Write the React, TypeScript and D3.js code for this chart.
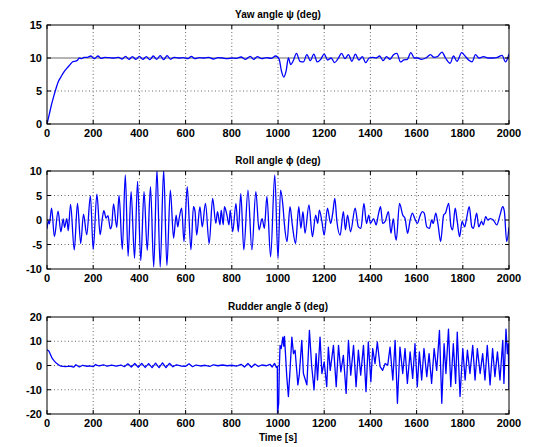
import * as d3 from "d3";

// time axis (s) shared by all three panels
const timeTicks = [0, 200, 400, 600, 800, 1000, 1200, 1400, 1600, 1800, 2000];

// Yaw angle psi (deg) as [t, value]
const yawAngle: [number, number][] = [
  [0, 0], [10, 1.5], [20, 3], [30, 4.3], [40, 5.5], [50, 6.5], [60, 7.1], [70, 7.7], [80, 8.2],
  [90, 8.6], [100, 9.0], [110, 9.4], [120, 9.5], [130, 9.6], [140, 10.0], [150, 9.9], [160, 10.1],
  [175, 10.1], [190, 10.3], [205, 9.9], [220, 10.3], [235, 9.95], [250, 10.1], [270, 10.05],
  [290, 10.0], [310, 10.1], [325, 9.85], [340, 10.25], [355, 9.8], [370, 10.2], [385, 9.8],
  [400, 10.25], [415, 9.8], [430, 10.2], [445, 9.75], [460, 10.3], [475, 9.8], [490, 10.35],
  [505, 9.75], [520, 10.35], [535, 9.8], [550, 10.1], [570, 10.0], [590, 10.05], [610, 9.9],
  [625, 10.25], [640, 9.9], [660, 10.05], [680, 10.0], [700, 10.1], [720, 9.85], [740, 10.05],
  [760, 10.0], [780, 9.9], [800, 10.0], [820, 9.95], [840, 10.15], [860, 9.8], [880, 10.25],
  [895, 9.8], [910, 10.2], [930, 9.9], [950, 10.05], [970, 9.95], [990, 10.3], [1005, 9.8],
  [1015, 8.0], [1025, 7.1], [1035, 8.0], [1045, 10.0], [1055, 9.0], [1065, 9.5], [1080, 10.7],
  [1095, 9.5], [1110, 9.4], [1125, 10.5], [1140, 9.6], [1155, 10.6], [1170, 9.4], [1185, 9.8],
  [1200, 10.6], [1215, 9.7], [1230, 10.0], [1245, 9.3], [1260, 9.9], [1275, 10.7], [1290, 9.9],
  [1305, 10.5], [1320, 9.5], [1335, 10.6], [1350, 9.7], [1365, 10.2], [1380, 9.3], [1395, 10.0],
  [1410, 10.1], [1425, 10.0], [1440, 10.3], [1455, 9.6], [1470, 10.2], [1485, 9.8], [1500, 10.5],
  [1515, 10.7], [1530, 9.4], [1545, 9.7], [1560, 9.8], [1575, 10.8], [1590, 10.0], [1605, 10.0],
  [1620, 9.8], [1640, 10.0], [1660, 10.5], [1675, 10.1], [1690, 10.2], [1710, 10.9], [1725, 10.0],
  [1745, 9.2], [1760, 10.3], [1775, 9.5], [1795, 10.8], [1810, 10.3], [1825, 9.7], [1840, 9.4],
  [1855, 10.5], [1870, 10.0], [1890, 10.2], [1910, 10.0], [1930, 10.0], [1950, 10.1], [1970, 10.4],
  [1985, 9.4], [2000, 10.6],
];
const yawReference = 10;

// Roll angle phi (deg)
const rollAngle: [number, number][] = [
  [0, -1.8], [6, -0.2], [10, -0.8], [20, 2.4], [32, -3.4], [48, 1.8], [60, -2.4], [70, 0.2],
  [76, -1.5], [86, 0.3], [92, -2.2], [102, 3.2], [118, -6.1], [132, 3.4], [146, -4.8], [158, 1.2],
  [172, -3.0], [188, 4.9], [200, -6.0], [216, 5.3], [230, -3.0], [240, 0.5], [246, 1.9], [256, 0.4],
  [264, 0.9], [274, -1.8], [280, -1.2], [288, 3.3], [302, -1.5], [312, 5.0], [326, -6.0], [339, 9.2],
  [351, -7.4], [364, 5.8], [379, -7.8], [392, 7.9], [406, -8.3], [420, 5.8], [434, -6.2], [448, 6.8],
  [462, -9.6], [476, 10.2], [490, -9.6], [505, 10.2], [519, -9.3], [534, 6.1], [548, -3.7], [559, 1.0],
  [566, -1.4], [572, 0.3], [583, 2.4], [593, -4.4], [607, 6.8], [623, -6.1], [634, 2.7], [641, 1.7],
  [648, -3.1], [662, 2.7], [672, -1.4], [686, 3.4], [702, -4.8], [717, 4.4], [731, -0.7], [738, 1.7],
  [749, -1.0], [754, 2.0], [763, -1.0], [768, 2.7], [779, 1.0], [788, -1.0], [793, 2.0], [804, -2.4],
  [818, 3.4], [828, -2.4], [839, 5.4], [852, -6.1], [870, 6.1], [887, -6.1], [904, 5.8], [918, -2.0],
  [931, 0.3], [941, -1.7], [952, 4.8], [968, -7.5], [986, 9.2], [1000, -7.8], [1011, 6.1], [1021, 3.1],
  [1028, -1.0], [1039, -4.4], [1052, 2.7], [1062, -1.0], [1076, -4.8], [1090, 2.7], [1099, -1.7],
  [1108, 1.7], [1117, -2.7], [1134, 3.1], [1149, -3.4], [1163, 1.0], [1172, -0.7], [1179, 2.0],
  [1190, -0.3], [1200, -3.1], [1214, 2.4], [1228, -0.7], [1237, 1.4], [1246, 4.4], [1255, -0.3],
  [1269, -3.1], [1283, 1.7], [1292, -2.0], [1301, 1.0], [1314, -2.4], [1334, 2.4], [1348, -1.4],
  [1359, -1.7], [1372, 3.4], [1383, -0.7], [1393, 1.0], [1400, -0.7], [1414, 0.3], [1425, -1.0],
  [1434, 1.0], [1444, 2.7], [1453, -0.7], [1464, -0.3], [1478, 1.7], [1489, -2.7], [1499, 0.3],
  [1508, -3.4], [1512, -4.1], [1526, 3.4], [1540, 1.0], [1550, 0.3], [1561, -2.7], [1572, 0],
  [1582, 1.4], [1592, 0.3], [1603, -0.7], [1614, 0.7], [1624, 1.7], [1633, 1.4], [1644, -1.4],
  [1656, -1.7], [1665, 0], [1672, -0.7], [1683, 1.4], [1693, -1.0], [1704, -4.4], [1717, 1.0],
  [1725, 1.4], [1739, 3.4], [1749, -1.4], [1756, -2.0], [1767, 2.4], [1776, -0.3], [1786, -3.4],
  [1797, -0.3], [1808, -1.4], [1815, 0], [1828, 2.7], [1839, -1.4], [1846, -1.7], [1860, 1.4],
  [1869, -1.4], [1881, -0.3], [1889, -1.0], [1899, 0.7], [1908, 0], [1919, 0.3], [1932, 0],
  [1947, -1.0], [1961, 1.0], [1973, 2.7], [1980, 1.7], [1990, -4.4], [2000, -1.5],
];

// Rudder angle delta (deg)
const rudderAngle: [number, number][] = [
  [0, 6.5], [8, 6], [15, 4.5], [22, 3], [30, 2], [40, 1], [50, 0.3], [60, -0.3], [80, -0.5],
  [100, -0.3], [115, -0.7], [125, 0.3], [140, -0.6], [155, 0.1], [170, -0.3], [185, -0.2],
  [200, -0.5], [210, 0.4], [225, -0.2], [245, 0.3], [260, -0.3], [280, 0.2], [300, -0.3],
  [320, 0.2], [335, -0.5], [350, 0.7], [365, -0.6], [380, 0.8], [395, -0.7], [410, 0.9],
  [425, -0.8], [440, 0.8], [455, -0.9], [470, 1], [485, -0.9], [500, 1.1], [515, -0.9], [530, 0.9],
  [545, -0.5], [560, 0.3], [580, -0.2], [600, -0.3], [615, 0.7], [630, -0.5], [645, 0.2],
  [665, -0.2], [685, 0.1], [705, -0.4], [720, 0.3], [740, -0.1], [760, 0.2], [780, -0.1],
  [800, 0.1], [820, -0.3], [840, 0.5], [855, -0.6], [870, 0.8], [885, -0.7], [900, 0.6],
  [915, -0.4], [930, 0.2], [950, -0.1], [965, 0.5], [975, -0.6], [985, 0.9], [993, -0.8],
  [997, -0.3], [998, -19.6], [1003, -15.5], [1006, 0], [1009, 8.3], [1014, 7], [1021, 11.7],
  [1025, 8], [1028, 12], [1038, -4.6], [1045, -12.8], [1052, -2], [1060, 11.7], [1067, 4.9],
  [1074, 6.3], [1086, -8], [1092, -4], [1103, 10.4], [1110, -3.3], [1125, -8], [1136, 14.5],
  [1146, -0.5], [1156, -10], [1165, 4.9], [1171, -6], [1182, 11.7], [1190, -3.3], [1200, 1.5],
  [1211, -8.7], [1218, 7.6], [1226, -2], [1240, 8.3], [1252, -8.7], [1262, 8.3], [1272, -2.6],
  [1283, 4.2], [1295, -11.5], [1305, 10.4], [1315, -4], [1327, 8.3], [1338, -8.7], [1348, 6.3],
  [1358, -4], [1370, 8.3], [1381, -10.8], [1391, 9.7], [1402, -6.7], [1410, 7], [1420, 0.8],
  [1430, 9.7], [1442, -0.5], [1453, -2], [1464, 0.8], [1475, 0.1], [1485, 7.6], [1497, -6],
  [1507, 10.4], [1517, -15.6], [1528, 7.6], [1540, -3.3], [1550, 7], [1560, -7.4], [1572, 5.6],
  [1583, -5.3], [1593, 9], [1603, -8.7], [1612, 5.6], [1622, -6], [1632, 7], [1644, -4.6],
  [1654, 4.9], [1665, -7.4], [1676, 7], [1687, -2], [1699, 14.5], [1709, -15.6], [1719, 9],
  [1727, -3.3], [1738, 15], [1748, -8.7], [1759, 9], [1769, -7.4], [1776, 13.8], [1788, -12.8],
  [1800, 7], [1810, -6], [1820, 6.3], [1831, -3.3], [1843, 8.3], [1853, -6], [1863, 7],
  [1875, -3.3], [1886, 4.9], [1896, -6], [1906, 8.3], [1918, -8], [1929, 7], [1939, -4.6],
  [1950, 5.6], [1961, -6], [1973, 10.4], [1978, -7.4], [1987, 15], [1993, 4.9], [1997, 9],
  [2000, -10],
];

const yawTicks = [0, 5, 10, 15];
const rollTicks = [-10, -5, 0, 5, 10];
const rudderTicks = [-20, -10, 0, 10, 20];

const W = 546;
const H = 447;
const left = 47;
const right = 509;
const font = "'Liberation Sans', Arial, sans-serif";

type PanelProps = {
  id: string;
  top: number;
  bottom: number;
  title: string;
  data: [number, number][];
  yTicks: number[];
  curve: d3.CurveFactory;
  reference?: number;
};

const Panel = ({ id, top, bottom, title, data, yTicks, curve, reference }: PanelProps) => {
  const x = d3.scaleLinear().domain([0, 2000]).range([left, right]);
  const y = d3
    .scaleLinear()
    .domain([yTicks[0], yTicks[yTicks.length - 1]])
    .range([bottom, top]);

  const line = d3
    .line<[number, number]>()
    .x((d) => x(d[0]))
    .y((d) => y(d[1]))
    .curve(curve);

  const tickLen = 4;

  return (
    <g>
      <defs>
        <clipPath id={id}>
          <rect x={left} y={top} width={right - left} height={bottom - top} />
        </clipPath>
      </defs>
      <rect x={left} y={top} width={right - left} height={bottom - top} fill="#fff" />

      {/* dotted grid */}
      {timeTicks.slice(1, -1).map((t) => (
        <line key={"gx" + t} x1={x(t)} x2={x(t)} y1={top} y2={bottom}
          stroke="#444" strokeWidth={0.8} strokeDasharray="1 2.5" />
      ))}
      {yTicks.slice(1, -1).map((v) => (
        <line key={"gy" + v} x1={left} x2={right} y1={y(v)} y2={y(v)}
          stroke="#444" strokeWidth={0.8} strokeDasharray="1 2.5" />
      ))}

      {reference !== undefined && (
        <line x1={x(0)} x2={x(2000)} y1={y(reference)} y2={y(reference)}
          stroke="#b4b4b4" strokeWidth={2.2} />
      )}

      <path d={line(data) ?? ""} fill="none" stroke="#0000ff" strokeWidth={1.3}
        clipPath={`url(#${id})`} strokeLinejoin="round" />

      {/* inward ticks, all four sides */}
      {timeTicks.map((t) => (
        <g key={"tx" + t}>
          <line x1={x(t)} x2={x(t)} y1={bottom} y2={bottom - tickLen} stroke="#000" />
          <line x1={x(t)} x2={x(t)} y1={top} y2={top + tickLen} stroke="#000" />
          <text x={x(t)} y={bottom + 13} textAnchor="middle" fontSize={11}
            fontWeight="bold" fontFamily={font}>{t}</text>
        </g>
      ))}
      {yTicks.map((v) => (
        <g key={"ty" + v}>
          <line x1={left} x2={left + tickLen} y1={y(v)} y2={y(v)} stroke="#000" />
          <line x1={right} x2={right - tickLen} y1={y(v)} y2={y(v)} stroke="#000" />
          <text x={left - 5} y={y(v) + 4} textAnchor="end" fontSize={11}
            fontWeight="bold" fontFamily={font}>{v}</text>
        </g>
      ))}

      <rect x={left} y={top} width={right - left} height={bottom - top}
        fill="none" stroke="#000" strokeWidth={1} />

      <text x={(left + right) / 2} y={top - 7} textAnchor="middle" fontSize={10}
        fontWeight="bold" fontFamily={font}>{title}</text>
    </g>
  );
};

export default function App() {
  return (
    <svg width={W} height={H} style={{ position: "absolute", left: 0, top: 0, background: "#fff" }}>
      <Panel id="clip-yaw" top={25} bottom={124} title="Yaw angle ψ (deg)" data={yawAngle}
        yTicks={yawTicks} curve={d3.curveMonotoneX} reference={yawReference} />
      <Panel id="clip-roll" top={171} bottom={269} title="Roll angle ϕ (deg)" data={rollAngle}
        yTicks={rollTicks} curve={d3.curveMonotoneX} />
      <Panel id="clip-rudder" top={317} bottom={414} title="Rudder angle δ (deg)" data={rudderAngle}
        yTicks={rudderTicks} curve={d3.curveLinear} />
      <text x={(left + right) / 2} y={441} textAnchor="middle" fontSize={10}
        fontWeight="bold" fontFamily={font}>Time [s]</text>
    </svg>
  );
}
